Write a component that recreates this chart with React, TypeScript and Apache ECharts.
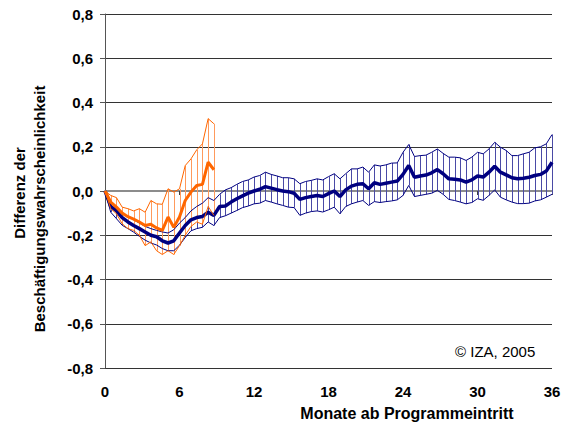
import React, { useEffect, useRef } from "react";
import * as echarts from "echarts";

const tickLabels = ["0", "6", "12", "18", "24", "30", "36"];
const stepsPerTick = 13;

const blueMean = [
  0, -0.07, -0.09, -0.12, -0.14, -0.156, -0.17, -0.185, -0.2, -0.207,
  -0.225, -0.235, -0.225, -0.19, -0.156, -0.13, -0.12, -0.115, -0.096, -0.11,
  -0.07, -0.068, -0.05, -0.035, -0.022, -0.01, 0.0, 0.008, 0.02, 0.013,
  0.006, 0.0, -0.003, -0.01, -0.038, -0.03, -0.025, -0.02, -0.025, -0.012,
  0.0, -0.025, 0.005, 0.022, 0.03, 0.033, 0.01, 0.037, 0.03, 0.035,
  0.04, 0.045, 0.075, 0.115, 0.062, 0.068, 0.072, 0.082, 0.097, 0.078,
  0.055, 0.053, 0.05, 0.04, 0.05, 0.068, 0.063, 0.085, 0.112, 0.085,
  0.073, 0.06, 0.055, 0.058, 0.062, 0.07, 0.075, 0.09, 0.13,
];
const blueUpper = [
  0, -0.05, -0.07, -0.1, -0.115, -0.13, -0.145, -0.16, -0.17, -0.178,
  -0.185, -0.19, -0.175, -0.145, -0.12, -0.09, -0.07, -0.055, -0.03, -0.043,
  -0.015, 0.005, 0.015, 0.03, 0.043, 0.05, 0.063, 0.07, 0.085, 0.075,
  0.068, 0.06, 0.06, 0.055, 0.033, 0.043, 0.048, 0.055, 0.05, 0.065,
  0.078, 0.055, 0.078, 0.1, 0.1, 0.108, 0.085, 0.118, 0.113, 0.118,
  0.126, 0.127, 0.175, 0.21, 0.156, 0.16, 0.162, 0.175, 0.19, 0.17,
  0.153, 0.153, 0.15, 0.138, 0.153, 0.175, 0.168, 0.19, 0.22, 0.198,
  0.183, 0.16, 0.16, 0.168, 0.175, 0.195, 0.2, 0.213, 0.255,
];
const blueLower = [
  0, -0.096, -0.125, -0.155, -0.17, -0.186, -0.205, -0.222, -0.235, -0.244,
  -0.26, -0.27, -0.27, -0.245, -0.21, -0.18, -0.17, -0.164, -0.14, -0.156,
  -0.12, -0.112, -0.1, -0.088, -0.075, -0.068, -0.058, -0.055, -0.043, -0.05,
  -0.058, -0.065, -0.073, -0.075, -0.11, -0.1, -0.093, -0.09, -0.095, -0.085,
  -0.073, -0.103, -0.07, -0.058, -0.05, -0.043, -0.065, -0.048, -0.052, -0.048,
  -0.045, -0.04, -0.02, 0.025, -0.025, -0.02, -0.015, -0.01, 0.003, -0.015,
  -0.038, -0.043, -0.05, -0.058, -0.052, -0.035, -0.042, -0.02, 0.005, -0.028,
  -0.04, -0.05, -0.057, -0.057, -0.055, -0.045, -0.04, -0.028, -0.015,
];

const orangeMean = [
  0, -0.05, -0.073, -0.1, -0.116, -0.127, -0.14, -0.156, -0.15, -0.167,
  -0.178, -0.118, -0.164, -0.118, -0.043, -0.005, 0.025, 0.03, 0.13, 0.096,
];
const orangeUpper = [
  0, -0.02, -0.03, -0.073, -0.08, -0.09, -0.08, -0.096, -0.043, -0.058,
  -0.06, 0.01, -0.005, 0.01, 0.115, 0.145, 0.186, 0.213, 0.327, 0.304,
];
const orangeLower = [
  0, -0.08, -0.103, -0.148, -0.17, -0.178, -0.2, -0.247, -0.23, -0.27,
  -0.287, -0.27, -0.287, -0.247, -0.2, -0.16, -0.14, -0.15, -0.07, -0.11,
];

const NAVY = "#000080";
const NAVY_HATCH = "#4a4aa6";
const ORANGE = "#ff6600";
const ORANGE_HATCH = "#ff9a5c";
const FONT = "'Liberation Sans', Arial, Helvetica, sans-serif";

const categories = blueMean.map((_, i) =>
  i % stepsPerTick === 0 ? tickLabels[i / stepsPerTick] : ""
);

function hatch(lower: number[], upper: number[]) {
  return lower.map((lo, i) => [i, lo, upper[i]]);
}

function hatchSeries(name: string, lower: number[], upper: number[], color: string) {
  return {
    name,
    type: "custom",
    xAxisIndex: 0,
    yAxisIndex: 0,
    encode: { x: 0, y: [1, 2] },
    data: hatch(lower, upper),
    silent: true,
    z: 2,
    renderItem: (params: any, api: any) => {
      const x = api.value(0);
      const p1 = api.coord([x, api.value(1)]);
      const p2 = api.coord([x, api.value(2)]);
      const px = Math.round(p1[0]) + 0.5;
      return {
        type: "line",
        shape: { x1: px, y1: p1[1], x2: px, y2: p2[1] },
        style: { stroke: color, lineWidth: 1 },
      };
    },
  };
}

function lineSeries(name: string, data: number[], color: string, width: number, z: number) {
  return {
    name,
    type: "line",
    xAxisIndex: 0,
    yAxisIndex: 0,
    data,
    symbol: "none",
    lineStyle: { color, width },
    z,
    silent: true,
  };
}

export default function App() {
  const ref = useRef<HTMLDivElement>(null);
  useEffect(() => {
    if (!ref.current) return;
    const chart = echarts.init(ref.current, null, { renderer: "svg" });
    chart.setOption({
      animation: false,
      backgroundColor: "#ffffff",
      grid: { left: 105, right: 15, top: 14, bottom: 57, containLabel: false },
      xAxis: [
        {
          type: "category",
          data: categories,
          boundaryGap: false,
          position: "bottom",
          axisLine: { show: false, onZero: false },
          axisTick: { show: false },
          splitLine: { show: false },
          axisLabel: {
            interval: stepsPerTick - 1,
            margin: 16,
            color: "#000",
            fontWeight: "bold",
            fontSize: 15,
            fontFamily: FONT,
          },
        },
        {
          type: "category",
          data: categories,
          boundaryGap: false,
          position: "top",
          axisLine: {
            show: true,
            onZero: true,
            onZeroAxisIndex: 0,
            lineStyle: { color: "#8c8c8c", width: 2 },
          },
          axisTick: {
            show: true,
            inside: true,
            interval: stepsPerTick - 1,
            length: 4,
            lineStyle: { color: "#404040", width: 1 },
          },
          axisLabel: { show: false },
          splitLine: { show: false },
        },
      ],
      yAxis: {
        type: "value",
        min: -0.8,
        max: 0.8,
        interval: 0.2,
        axisLine: { show: true, lineStyle: { color: "#555", width: 1 } },
        axisTick: { show: true, length: 5, lineStyle: { color: "#555" } },
        splitLine: { show: true, lineStyle: { color: "#333", width: 1 } },
        axisLabel: {
          margin: 12,
          color: "#000",
          fontWeight: "bold",
          fontSize: 15,
          fontFamily: FONT,
          formatter: (v: number) => v.toFixed(1).replace(".", ","),
        },
      },
      graphic: [
        {
          type: "text",
          x: 19,
          y: 193,
          rotation: Math.PI / 2,
          style: {
            text: "Differenz der",
            fill: "#000",
            font: `bold 15px ${FONT}`,
            textAlign: "center",
            textVerticalAlign: "middle",
          },
        },
        {
          type: "text",
          x: 39,
          y: 209,
          rotation: Math.PI / 2,
          style: {
            text: "Beschäftigungswahrscheinlichkeit",
            fill: "#000",
            font: `bold 15px ${FONT}`,
            textAlign: "center",
            textVerticalAlign: "middle",
          },
        },
        {
          type: "text",
          x: 407,
          y: 413,
          style: {
            text: "Monate ab Programmeintritt",
            fill: "#000",
            font: `bold 16px ${FONT}`,
            textAlign: "center",
            textVerticalAlign: "middle",
          },
        },
        {
          type: "text",
          x: 455,
          y: 351,
          style: {
            text: "© IZA, 2005",
            fill: "#000",
            font: `15px ${FONT}`,
            textAlign: "left",
            textVerticalAlign: "middle",
          },
        },
      ],
      series: [
        hatchSeries("Blau Band", blueLower, blueUpper, NAVY_HATCH),
        hatchSeries("Orange Band", orangeLower, orangeUpper, ORANGE_HATCH),
        lineSeries("Blau oben", blueUpper, NAVY, 1, 3),
        lineSeries("Blau unten", blueLower, NAVY, 1, 3),
        lineSeries("Blau", blueMean, NAVY, 3.5, 4),
        lineSeries("Orange oben", orangeUpper, ORANGE, 1, 5),
        lineSeries("Orange unten", orangeLower, ORANGE, 1, 5),
        lineSeries("Orange", orangeMean, ORANGE, 3, 6),
      ],
    });
    return () => chart.dispose();
  }, []);
  return (
    <div
      ref={ref}
      style={{ position: "fixed", left: 0, top: 0, width: 567, height: 425, background: "#fff" }}
    />
  );
}
